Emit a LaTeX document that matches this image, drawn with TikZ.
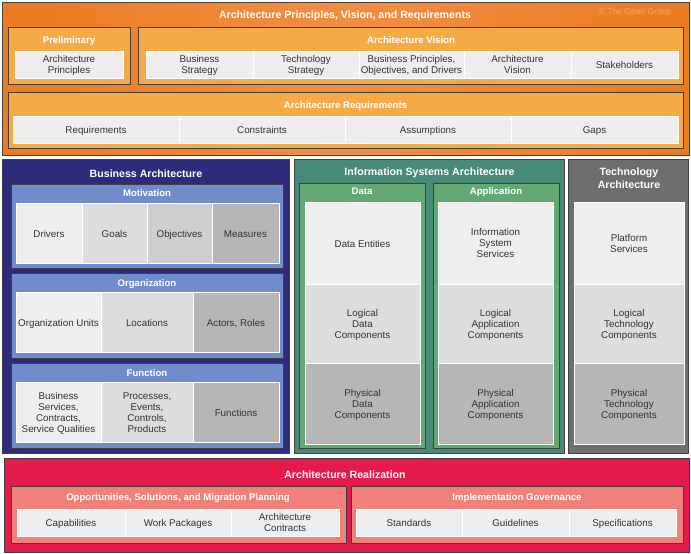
\documentclass[tikz,border=0pt]{standalone}
\usepackage{fontspec}
\setmainfont{Liberation Sans}
\definecolor{orA}{RGB}{236,122,32}
\definecolor{orB}{RGB}{241,142,68}
\definecolor{orSub}{RGB}{245,170,72}
\definecolor{navy}{RGB}{47,43,124}
\definecolor{blueSub}{RGB}{112,140,202}
\definecolor{teal}{RGB}{72,138,120}
\definecolor{greenSub}{RGB}{100,168,116}
\definecolor{techgray}{RGB}{110,110,108}
\definecolor{crimson}{RGB}{228,26,74}
\definecolor{salmon}{RGB}{240,128,122}
\definecolor{gA}{RGB}{238,238,238}
\definecolor{gB}{RGB}{221,221,221}
\definecolor{gC}{RGB}{206,206,206}
\definecolor{gD}{RGB}{182,182,182}
\definecolor{copyc}{RGB}{246,168,104}
\newcommand\mybox[7]{%
  \pgfmathsetmacro\bcx{(#3+#5)/2}\pgfmathsetmacro\bcy{(#4+#6)/2}%
  \pgfmathsetmacro\bw{#5-#3}\pgfmathsetmacro\bh{#6-#4}%
  \node[#1, minimum width=\bw pt, minimum height=\bh pt] (#2) at (\bcx,\bcy) {#7};}
\tikzset{
  panel/.style={draw=black!75, line width=0.8pt, inner sep=0pt, outer sep=0pt},
  cell/.style={draw=white, line width=1pt, fill=gA, text=black!80,
    font=\fontsize{9.8}{11}\selectfont, align=center, inner sep=1pt, outer sep=0pt},
  celltext/.style={text=black!80, font=\fontsize{9.8}{11}\selectfont, align=center,
    inner sep=0pt, yshift=-1.8pt, execute at begin node=\strut, execute at end node=\strut},
  maintitle/.style={text=white, font=\bfseries\fontsize{10.6}{13}\selectfont, align=center,
    inner sep=0pt, text height=7.6pt, text depth=0pt},
  subtitle/.style={text=white, font=\bfseries\fontsize{9.6}{11}\selectfont, inner sep=0pt,
    text height=6.9pt, text depth=0pt},
}
\begin{document}
\begin{tikzpicture}[x=1pt,y=-1pt]
\useasboundingbox (0,0) rectangle (691,554);
\fill[white] (0,0) rectangle (691,554);

% ===== Top: Principles, Vision, Requirements =====
\mybox{panel, left color=orA, right color=orA, middle color=orB}{apvr}{2}{2}{689}{155}{}
\node[maintitle] (apvrT) at (345,15) {Architecture Principles, Vision, and Requirements};
\node[text=copyc, font=\fontsize{8.5}{10}\selectfont, inner sep=0pt, text height=6.2pt, text depth=0pt] (copy) at (635,11) {© The Open Group};

\mybox{panel, fill=orSub}{prel}{8}{27}{130}{84}{}
\node[subtitle] (prelT) at (69,40) {Preliminary};
\mybox{cell}{prelA}{15}{51}{123}{78}{}
\node[celltext] at (prelA) {Architecture\\Principles};

\mybox{panel, fill=orSub}{vis}{138}{27}{683}{84}{}
\node[subtitle] (visT) at (411,40) {Architecture Vision};
\mybox{cell}{visA}{146}{51}{253}{78}{}
\mybox{cell}{visB}{253}{51}{359}{78}{}
\mybox{cell}{visC}{359}{51}{464}{78}{}
\mybox{cell}{visD}{464}{51}{571}{78}{}
\mybox{cell}{visE}{571}{51}{678}{78}{}
\node[celltext] at (visA) {Business\\Strategy};
\node[celltext] at (visB) {Technology\\Strategy};
\node[celltext] at (visC) {Business Principles,\\Objectives, and Drivers};
\node[celltext] at (visD) {Architecture\\Vision};
\node[celltext] at (visE) {Stakeholders};

\mybox{panel, fill=orSub}{req}{8}{92}{683}{148}{}
\node[subtitle] (reqT) at (345.5,105) {Architecture Requirements};
\mybox{cell}{reqA}{13}{116}{179}{143}{}
\mybox{cell}{reqB}{179}{116}{345}{143}{}
\mybox{cell}{reqC}{345}{116}{511}{143}{}
\mybox{cell}{reqD}{511}{116}{678}{143}{}
\node[celltext] at (reqA) {Requirements};
\node[celltext] at (reqB) {Constraints};
\node[celltext] at (reqC) {Assumptions};
\node[celltext] at (reqD) {Gaps};

% ===== Business Architecture =====
\mybox{panel, fill=navy}{ba}{2}{159}{289}{453}{}
\node[maintitle] (baT) at (146,174) {Business Architecture};

\mybox{panel, fill=blueSub}{mot}{11}{184}{283}{268}{}
\node[subtitle] (motT) at (147,193) {Motivation};
\mybox{cell}{motA}{16}{203}{82}{263}{}
\mybox{cell, fill=gB}{motB}{82}{203}{147}{263}{}
\mybox{cell, fill=gC}{motC}{147}{203}{212}{263}{}
\mybox{cell, fill=gD}{motD}{212}{203}{279}{263}{}
\node[celltext] at (motA) {Drivers};
\node[celltext] at (motB) {Goals};
\node[celltext] at (motC) {Objectives};
\node[celltext] at (motD) {Measures};

\mybox{panel, fill=blueSub}{org}{11}{273}{283}{358}{}
\node[subtitle] (orgT) at (147,283) {Organization};
\mybox{cell}{orgA}{16}{292}{101}{352}{}
\mybox{cell, fill=gB}{orgB}{101}{292}{193}{352}{}
\mybox{cell, fill=gD}{orgC}{193}{292}{279}{352}{}
\node[celltext] at (orgA) {Organization Units};
\node[celltext] at (orgB) {Locations};
\node[celltext] at (orgC) {Actors, Roles};

\mybox{panel, fill=blueSub}{fun}{11}{363}{283}{448}{}
\node[subtitle] (funT) at (147,373) {Function};
\mybox{cell}{funA}{16}{382}{101}{442}{}
\mybox{cell, fill=gB}{funB}{101}{382}{193}{442}{}
\mybox{cell, fill=gD}{funC}{193}{382}{279}{442}{}
\node[celltext] at (funA) {Business\\Services,\\Contracts,\\Service Qualities};
\node[celltext] at (funB) {Processes,\\Events,\\Controls,\\Products};
\node[celltext] at (funC) {Functions};

% ===== Information Systems Architecture =====
\mybox{panel, fill=teal}{isa}{294}{159}{564}{453}{}
\node[maintitle] (isaT) at (429.5,172) {Information Systems Architecture};

\mybox{panel, fill=greenSub}{dat}{299}{183}{425}{448}{}
\node[subtitle] (datT) at (362,191) {Data};
\mybox{cell}{datA}{305}{202}{420}{284}{}
\mybox{cell, fill=gB}{datB}{305}{284}{420}{363}{}
\mybox{cell, fill=gD}{datC}{305}{363}{420}{444}{}
\node[celltext] at (datA) {Data Entities};
\node[celltext] at (datB) {Logical\\Data\\Components};
\node[celltext] at (datC) {Physical\\Data\\Components};

\mybox{panel, fill=greenSub}{app}{433}{183}{559}{448}{}
\node[subtitle] (appT) at (496,191) {Application};
\mybox{cell}{appA}{438}{202}{553}{284}{}
\mybox{cell, fill=gB}{appB}{438}{284}{553}{363}{}
\mybox{cell, fill=gD}{appC}{438}{363}{553}{444}{}
\node[celltext] at (appA) {Information\\System\\Services};
\node[celltext] at (appB) {Logical\\Application\\Components};
\node[celltext] at (appC) {Physical\\Application\\Components};

% ===== Technology Architecture =====
\mybox{panel, fill=techgray}{tech}{568}{159}{688}{453}{}
\node[text=white, font=\bfseries\fontsize{10.6}{13}\selectfont, align=center, inner sep=0pt] (techT) at (629,178.5) {Technology\\Architecture};
\mybox{cell}{techA}{574}{202}{684}{284}{}
\mybox{cell, fill=gB}{techB}{574}{284}{684}{363}{}
\mybox{cell, fill=gD}{techC}{574}{363}{684}{444}{}
\node[celltext] at (techA) {Platform\\Services};
\node[celltext] at (techB) {Logical\\Technology\\Components};
\node[celltext] at (techC) {Physical\\Technology\\Components};

% ===== Architecture Realization =====
\mybox{panel, fill=crimson}{real}{4}{458}{689}{552}{}
\node[maintitle] (realT) at (345,475) {Architecture Realization};

\mybox{panel, fill=salmon}{opp}{11}{486}{346}{543}{}
\node[subtitle] (oppT) at (178,497) {Opportunities, Solutions, and Migration Planning};
\mybox{cell}{oppA}{17}{509}{125}{536}{}
\mybox{cell}{oppB}{125}{509}{231}{536}{}
\mybox{cell}{oppC}{231}{509}{339}{536}{}
\node[celltext] at (oppA) {Capabilities};
\node[celltext] at (oppB) {Work Packages};
\node[celltext] at (oppC) {Architecture\\Contracts};

\mybox{panel, fill=salmon}{gov}{351}{486}{683}{543}{}
\node[subtitle] (govT) at (517,497) {Implementation Governance};
\mybox{cell}{govA}{356}{509}{462}{536}{}
\mybox{cell}{govB}{462}{509}{569}{536}{}
\mybox{cell}{govC}{569}{509}{676}{536}{}
\node[celltext] at (govA) {Standards};
\node[celltext] at (govB) {Guidelines};
\node[celltext] at (govC) {Specifications};
\end{tikzpicture}
\end{document}
